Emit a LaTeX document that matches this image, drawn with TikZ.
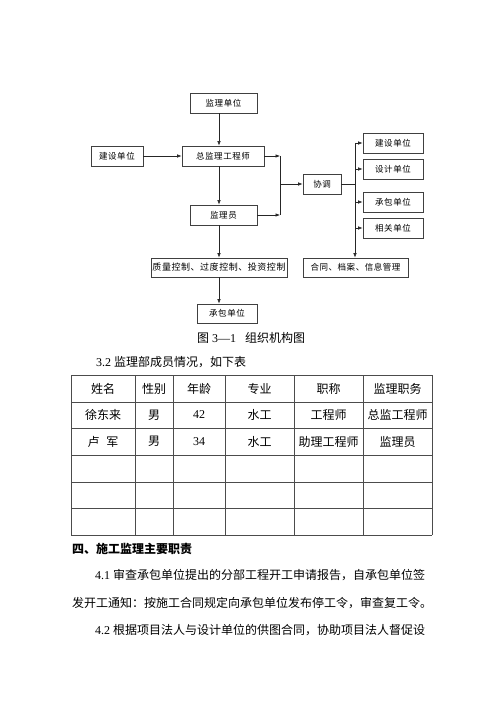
\documentclass[tikz,border=0pt]{standalone}
\usepackage{fontspec}
\setmainfont{Liberation Serif}
\newfontfamily\cjk{Noto Sans CJK SC}
\usetikzlibrary{arrows.meta}
\begin{document}
\begin{tikzpicture}[x=1pt,y=-1pt,
  box/.style={draw=black!75, line width=0.7pt, inner sep=0pt, minimum height=20pt,
    font=\cjk\fontsize{8.5}{10}\selectfont\addfontfeature{LetterSpace=6}, align=center},
  arr/.style={-{Latex[length=4.5pt,width=3.5pt]}, line width=0.6pt, draw=black!85},
  ln/.style={line width=0.6pt, draw=black!85},
  tbl/.style={line width=0.7pt, draw=black!70},
  cell/.style={inner sep=0pt, font=\cjk\fontsize{12}{14}\selectfont},
  body/.style={inner sep=0pt, anchor=west, font=\fontsize{12}{14}\selectfont}]
\useasboundingbox (0,0) rectangle (500,708);
% ---------- flowchart ----------
\node[box, minimum width=67pt] (jl) at (223.5,103) {监理单位};
\node[box, minimum width=82pt] (zj) at (223,156) {总监理工程师};
\node[box, minimum width=52pt] (js) at (117,156) {建设单位};
\node[box, minimum width=67pt] (jy) at (223.5,215) {监理员};
\node[box, minimum width=136pt, minimum height=19pt,
  font=\cjk\fontsize{9}{10}\selectfont\addfontfeature{LetterSpace=6}] (zl) at (219,267.5) {质量控制、过度控制、投资控制};
\node[box, minimum width=60pt, minimum height=19pt] (cb) at (227,313.5) {承包单位};
\node[box, minimum width=38pt] (xt) at (322,184) {协调};
\node[box, minimum width=60pt] (r1) at (393,143) {建设单位};
\node[box, minimum width=60pt] (r2) at (393,169) {设计单位};
\node[box, minimum width=60pt] (r3) at (393,202) {承包单位};
\node[box, minimum width=60pt] (r4) at (393,228) {相关单位};
\node[box, minimum width=105pt, minimum height=19pt] (ht) at (355.5,267.5) {合同、档案、信息管理};
\coordinate (cx) at (219,0);
\coordinate (bx1) at (280,0);
\coordinate (bx2) at (355,0);
\draw[arr] (jl.south -| cx) -- (zj.north -| cx);
\draw[arr] (js.east) -- (zj.west);
\draw[arr] (zj.south -| cx) -- (jy.north -| cx);
\draw[arr] (jy.south -| cx) -- (zl.north -| cx);
\draw[arr] (zl.south -| cx) -- (cb.north -| cx);
\draw[arr] (zj.east) -- (zj.east -| bx1);
\draw[arr] (jy.east) -- (jy.east -| bx1);
\draw[ln] (zj.east -| bx1) -- (jy.east -| bx1);
\draw[arr] (xt.west -| bx1) -- (xt.west);
\draw[ln] (xt.east) -- (xt.east -| bx2);
\draw[arr] (r1.west -| bx2) -- (ht.north -| bx2);
\foreach \r in {r1,r2,r3,r4} \draw[arr] (\r.west -| bx2) -- (\r.west);
% ---------- caption ----------
\node[inner sep=0pt, font=\fontsize{12}{14}\selectfont] (cap) at (251,338)
  {{\cjk 图} 3—1\hspace{9pt}{\cjk 组织机构图}};
\node[body] (t32) at (96,362) {3.2 {\cjk 监理部成员情况，如下表}};
% ---------- table ----------
\foreach \y in {375,402,428.5,455,482,508.5,535} \draw[tbl] (71,\y) -- (432,\y);
\foreach \x in {71,135,173,225,294,363,432} \draw[tbl] (\x,375) -- (\x,535);
\foreach \t [count=\i] in {姓名,性别,年龄,专业,职称,监理职务}
  \node[cell] (h\i) at ({\ifcase\i\or103\or154\or199\or259.5\or328.5\or397.5\fi},388.5) {\t};
\node[cell] (a1) at (103,415) {徐东来};
\node[cell] (a2) at (154,415) {男};
\node[cell, font=\fontsize{12}{14}\selectfont] (a3) at (199,415) {42};
\node[cell] (a4) at (259.5,415) {水工};
\node[cell] (a5) at (328.5,415) {工程师};
\node[cell] (a6) at (397.5,415) {总监工程师};
\node[cell] (b1) at (103,441.5) {卢\hspace{7pt}军};
\node[cell] (b2) at (154,441.5) {男};
\node[cell, font=\fontsize{12}{14}\selectfont] (b3) at (199,441.5) {34};
\node[cell] (b4) at (259.5,441.5) {水工};
\node[cell] (b5) at (328.5,441.5) {助理工程师};
\node[cell] (b6) at (397.5,441.5) {监理员};
% ---------- text ----------
\node[body, font=\cjk\bfseries\fontsize{12}{14}\selectfont] (hd) at (72,549) {四、施工监理主要职责};
\node[body] (p1) at (95,575) {4.1 {\cjk 审查承包单位提出的分部工程开工申请报告，自承包单位签}};
\node[body] (p2) at (72,603) {{\cjk 发开工通知：按施工合同规定向承包单位发布停工令，审查复工令。}};
\node[body] (p3) at (95,630) {4.2 {\cjk 根据项目法人与设计单位的供图合同，协助项目法人督促设}};
\end{tikzpicture}
\end{document}
